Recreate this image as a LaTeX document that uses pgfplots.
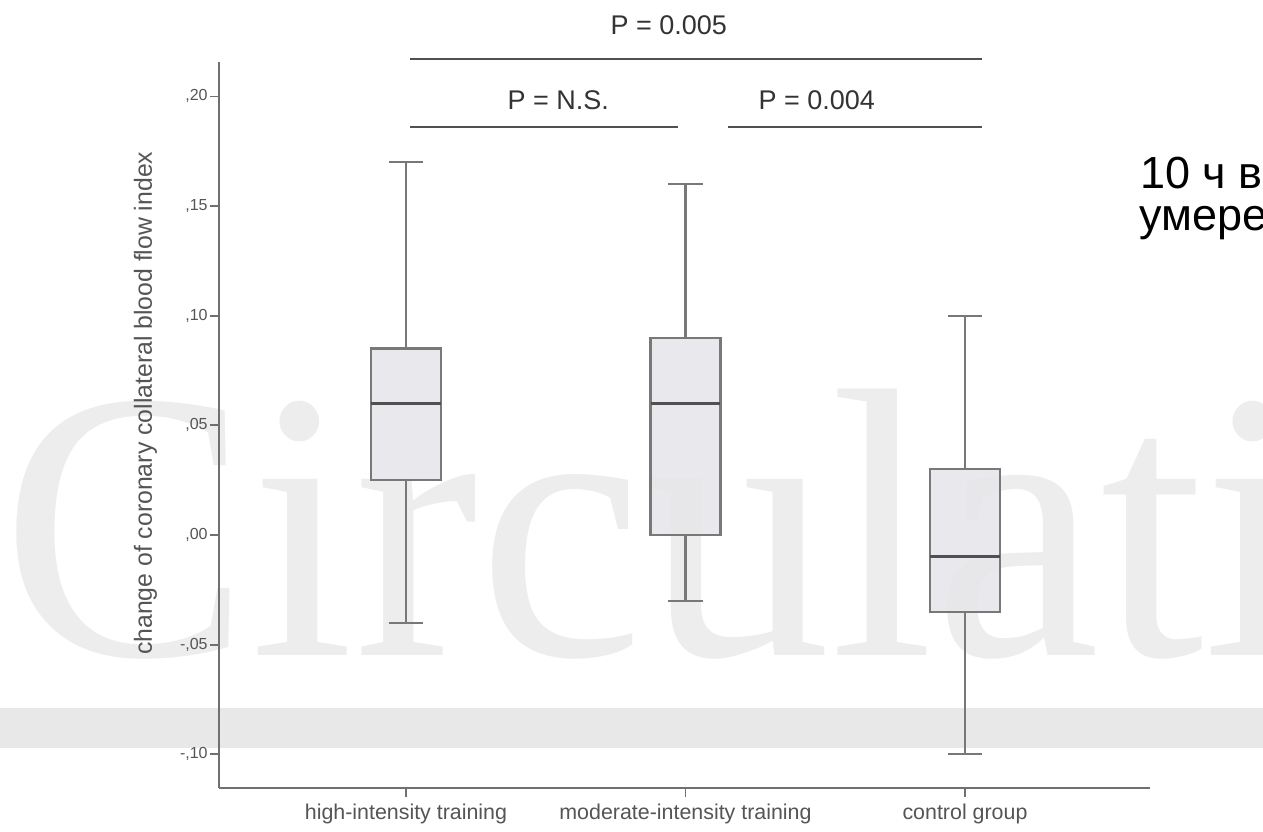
\documentclass[border=0pt]{standalone}
\usepackage{pgfplots}
\pgfplotsset{compat=1.18}
\usepgfplotslibrary{statistics}
\usepackage{fontspec}
\setmainfont{Liberation Sans}
\newfontfamily\wmfont{Liberation Serif}
\definecolor{axisgray}{HTML}{707070}
\definecolor{labelgray}{HTML}{555555}
\definecolor{boxgray}{HTML}{787878}
\definecolor{boxfill}{HTML}{E6E6EA}
\definecolor{medgray}{HTML}{505050}
\definecolor{wmgray}{HTML}{EDEDED}
\definecolor{bandgray}{HTML}{E8E8E8}
\definecolor{ptext}{HTML}{333333}
\begin{document}
\begin{tikzpicture}[x=0.5pt,y=0.5pt]
\clip (0,0) rectangle (1263,831);
\fill[white] (0,0) rectangle (1263,831);
\fill[bandgray] (0,83) rectangle (1263,123);
\node[anchor=base west, inner sep=0, text=wmgray, xscale=0.972] at (1,176) {\wmfont\fontsize{192}{200}\selectfont Circulati};
\begin{axis}[
  at={(109.5pt,21.5pt)}, anchor=south west,
  scale only axis, width=465.5pt, height=363pt,
  xmin=-0.669, xmax=2.662, ymin=-0.1154, ymax=0.2157,
  axis x line*=bottom, axis y line*=left,
  axis line style={draw=axisgray, line width=0.9pt, -},
  xtick={0,1,2},
  xticklabels={high-intensity training, moderate-intensity training, control group},
  ytick={-0.10,-0.05,0,0.05,0.10,0.15,0.20},
  yticklabels={{-,10},{-,05},{,00},{,05},{,10},{,15},{,20}},
  tick align=outside, major tick length=4.5pt,
  tick style={draw=axisgray, line width=0.9pt},
  xticklabel style={font=\fontsize{10.7}{12}\selectfont, text=labelgray},
  yticklabel style={font=\fontsize{8}{9}\selectfont, text=labelgray, inner sep=1pt},
  ylabel={change of coronary collateral blood flow index},
  ylabel style={font=\fontsize{12.4}{14}\selectfont, text=labelgray, inner sep=0pt, at={(axis description cs:-0.0790,0.53)}, anchor=center},
  clip=false,
  boxplot/draw direction=y,
  boxplot/box extend=0.25,
  boxplot/whisker extend=0.125,
  boxplot/every median/.style={draw=medgray, line width=1.5pt},
]
\addplot[draw=boxgray, fill=boxfill, fill opacity=0.85, line width=1.1pt, mark=none,
  boxplot prepared={lower whisker=-0.04, lower quartile=0.025, median=0.06, upper quartile=0.085, upper whisker=0.17, draw position=0}]
  coordinates {};
\addplot[draw=boxgray, fill=boxfill, fill opacity=0.85, line width=1.1pt, mark=none,
  boxplot prepared={lower whisker=-0.03, lower quartile=0.0, median=0.06, upper quartile=0.09, upper whisker=0.16, draw position=1}]
  coordinates {};
\addplot[draw=boxgray, fill=boxfill, fill opacity=0.85, line width=1.1pt, mark=none,
  boxplot prepared={lower whisker=-0.10, lower quartile=-0.035, median=-0.01, upper quartile=0.03, upper whisker=0.10, draw position=2}]
  coordinates {};
\addplot[draw=medgray, line width=1.2pt, mark=none] coordinates {(0.014,0.2171) (2.061,0.2171)};
\addplot[draw=medgray, line width=1.2pt, mark=none] coordinates {(0.014,0.1861) (0.973,0.1861)};
\addplot[draw=medgray, line width=1.2pt, mark=none] coordinates {(1.152,0.1861) (2.061,0.1861)};
\node[font=\fontsize{13.5}{15}\selectfont, text=ptext] at (axis cs:0.94,0.2326) {P = 0.005};
\node[font=\fontsize{13.5}{15}\selectfont, text=ptext] at (axis cs:0.545,0.1984) {P = N.S.};
\node[font=\fontsize{13.5}{15}\selectfont, text=ptext] at (axis cs:1.47,0.1984) {P = 0.004};
\end{axis}
\node[anchor=base west, inner sep=0, font=\fontsize{22.5}{24}\selectfont] at (1140,642) {10 ч в};
\node[anchor=base west, inner sep=0, font=\fontsize{22.5}{24}\selectfont] at (1139,600) {умере};
\end{tikzpicture}
\end{document}
